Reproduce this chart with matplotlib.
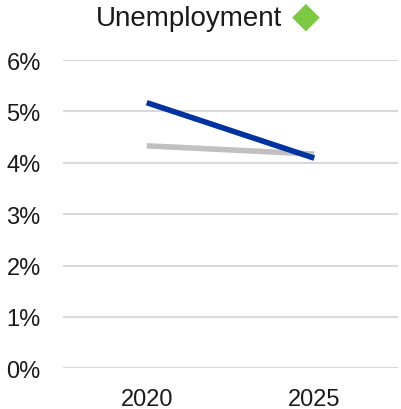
import matplotlib
matplotlib.use("Agg")
import matplotlib.pyplot as plt

categories = ["2020", "2025"]
series_gray = [4.33, 4.17]
series_blue = [5.17, 4.09]
yticks = [0, 1, 2, 3, 4, 5, 6]
ytick_labels = ["0%", "1%", "2%", "3%", "4%", "5%", "6%"]

plt.rcParams['font.family'] = ['Liberation Sans', 'DejaVu Sans']

fig = plt.figure(figsize=(4.01, 4.10), dpi=100)
ax = fig.add_axes([63/401, 1-369.3/410, (398-63)/401, (369.3-61)/410])

x = list(range(len(categories)))
ax.plot(x, series_gray, color="#c0c0c0", lw=4.0, solid_capstyle="butt", zorder=3)
ax.plot(x, series_blue, color="#0033a0", lw=4.0, solid_capstyle="butt", zorder=4)

ax.set_xlim(-0.5, 1.5)
ax.set_ylim(0, 6)
ax.set_yticks(yticks)
ax.set_yticklabels(ytick_labels)
ax.set_xticks(x)
ax.set_xticklabels(categories)
ax.grid(axis="y", color="#d9d9d9", lw=1.5)
ax.set_axisbelow(True)
for s in ax.spines.values():
    s.set_visible(False)
ax.tick_params(axis="both", length=0, labelsize=17, colors="#1a1a1a")
ax.tick_params(axis="y", pad=16)
ax.tick_params(axis="x", pad=14)

fig.text(189/401, 1-19/410, "Unemployment", ha="center", va="center", fontsize=20, color="#1a1a1a")
fig.text(306/401, 1-17/410, "◆", ha="center", va="center", fontsize=26, color="#7dc943", family="DejaVu Sans")

fig.savefig("out.png", dpi=100)
